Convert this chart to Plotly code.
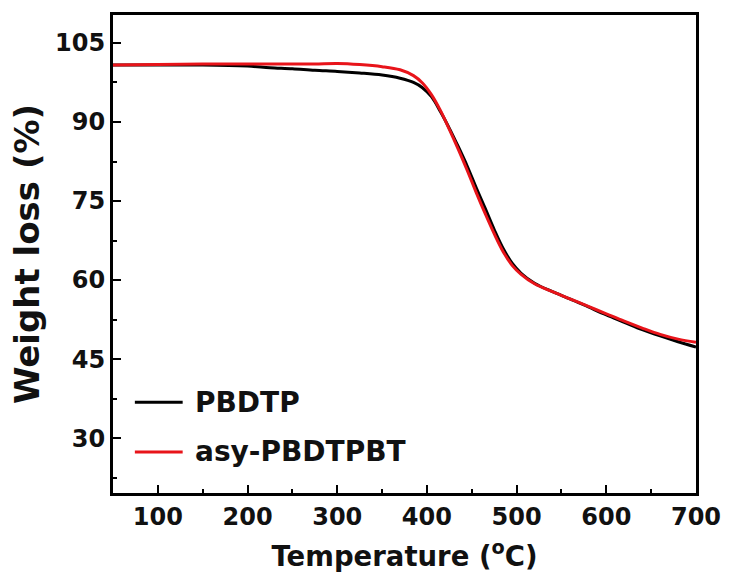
import plotly.graph_objects as go

temperature = [50, 100, 150, 200, 225, 250, 275, 300, 325, 350, 370, 385, 395, 405,
               415, 425, 435, 445, 455, 465, 475, 485, 495, 505, 520, 540, 560, 580,
               600, 620, 640, 660, 680, 700]
pbdtp = [100.8, 100.8, 100.8, 100.6, 100.3, 100.1, 99.8, 99.6, 99.3, 98.9, 98.3, 97.5,
         96.5, 94.8, 92.0, 88.8, 85.3, 81.6, 77.5, 73.6, 69.6, 66.0, 63.2, 61.3, 59.4,
         57.8, 56.4, 54.9, 53.4, 52.0, 50.6, 49.4, 48.3, 47.3]
asy_pbdtpbt = [100.8, 100.9, 101.0, 101.0, 101.0, 101.0, 101.0, 101.1, 100.9, 100.5,
               99.9, 98.8, 97.4, 95.2, 92.2, 88.6, 84.8, 80.8, 76.6, 72.6, 68.8, 65.4,
               62.8, 61.1, 59.3, 57.8, 56.4, 55.0, 53.6, 52.2, 50.9, 49.7, 48.8, 48.2]

series_names = ["PBDTP", "asy-PBDTPBT"]
series_colors = ["#000000", "#e8141a"]
series_values = [pbdtp, asy_pbdtpbt]

x_ticks = [100, 200, 300, 400, 500, 600, 700]
y_ticks = [30, 45, 60, 75, 90, 105]

FONT = "DejaVu Sans"
TXT = "#111111"

fig = go.Figure()
for name, color, vals in zip(series_names, series_colors, series_values):
    fig.add_trace(go.Scatter(x=temperature, y=vals, mode="lines", name=name,
                             showlegend=False,
                             line=dict(color=color, width=3, shape="spline")))

# legend drawn as line samples + labels (paper coordinates)
legend_y = [0.190, 0.086]
for name, color, ly in zip(series_names, series_colors, legend_y):
    fig.add_shape(type="line", xref="paper", yref="paper",
                  x0=0.0375, x1=0.1195, y0=ly, y1=ly,
                  line=dict(color=color, width=3))
    fig.add_annotation(xref="paper", yref="paper", x=0.138, y=ly,
                       xanchor="left", yanchor="middle", showarrow=False,
                       text=name,
                       font=dict(family=FONT, size=28, color=TXT, weight="bold"))

axis_common = dict(
    showline=True, linecolor="black", linewidth=3, mirror=True,
    ticks="inside", ticklen=8, tickwidth=2, tickcolor="black",
    showgrid=False, zeroline=False,
    tickfont=dict(family=FONT, size=24, color=TXT, weight="bold"),
)

fig.update_xaxes(range=[50, 700], tickvals=x_ticks,
                 minor=dict(ticks="inside", ticklen=4, tickwidth=2, tickcolor="black", dtick=50, tick0=0),
                 title=dict(text="Temperature (<sup>o</sup>C)", standoff=17,
                            font=dict(family=FONT, size=27.5, color=TXT, weight="bold")),
                 **axis_common)
fig.update_yaxes(range=[19.6, 110.3], tickvals=y_ticks,
                 minor=dict(ticks="inside", ticklen=4, tickwidth=2, tickcolor="black", dtick=7.5, tick0=0),
                 title=dict(text="Weight loss (%)", standoff=6,
                            font=dict(family=FONT, size=34, color=TXT, weight="bold")),
                 **axis_common)

fig.update_layout(
    width=733, height=579,
    margin=dict(l=113, r=34, t=15, b=86),
    plot_bgcolor="white", paper_bgcolor="white",
    showlegend=False,
)

fig.write_html("out.html")
